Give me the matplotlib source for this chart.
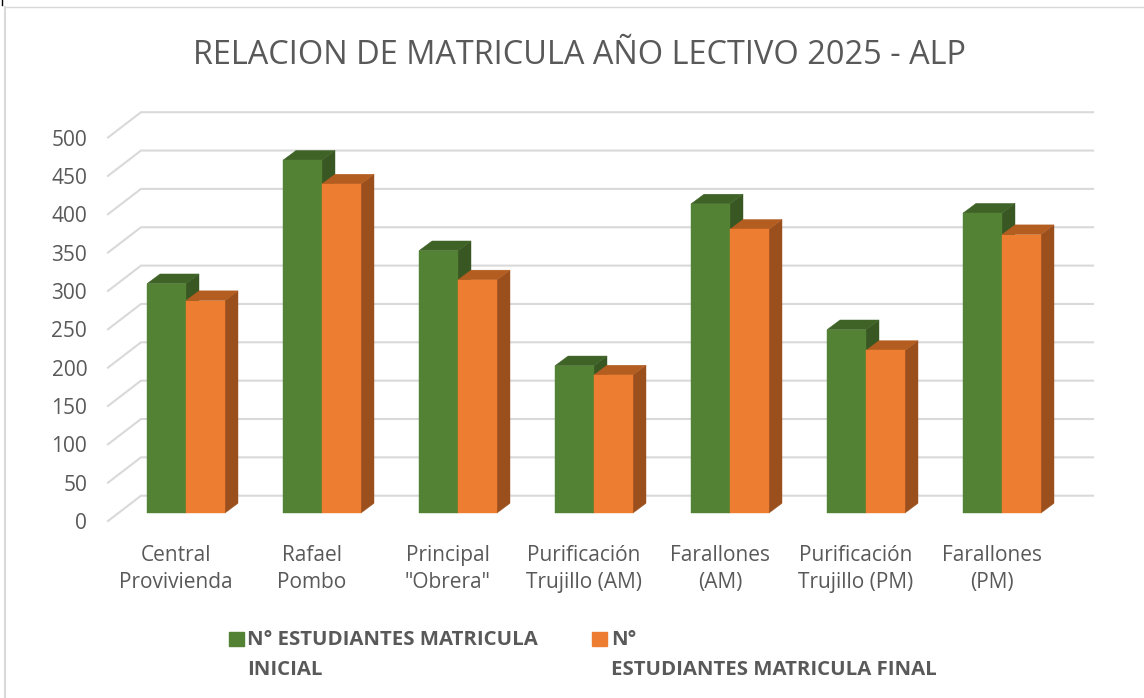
import matplotlib
matplotlib.use('Agg')
import matplotlib.pyplot as plt
from matplotlib.lines import Line2D
from matplotlib.patches import Rectangle
import numpy as np

plt.rcParams['font.family'] = ['Open Sans', 'DejaVu Sans']

escuelas = ['Central\nProvivienda', 'Rafael\nPombo', 'Principal\n"Obrera"', 'Purificación\nTrujillo (AM)',
            'Farallones\n(AM)', 'Purificación\nTrujillo (PM)', 'Farallones\n(PM)']
inicial = [299, 460, 342, 192, 403, 239, 391]
final = [277, 429, 304, 180, 370, 212, 363]
yticks = [0, 50, 100, 150, 200, 250, 300, 350, 400, 450, 500]

W, H = 1144, 698
GREY = '#595959'
GRID = '#D9D9D9'

fig = plt.figure(figsize=(W / 100, H / 100), dpi=100)
ax = fig.add_axes([108 / W, 1 - 521 / H, 952 / W, 383.5 / H])
ax.set_xlim(-0.5, 6.5)
ax.set_ylim(0, 500)

# pixel distances turned into data units
px_x = 7 / 952
px_y = 500 / 383.5


def draw_bars(xs, vals, front, side, top):
    off_x, off_y = 10 * px_x, 8 * px_y
    dep_x, dep_y = 13 * px_x, 9.7 * px_y
    w = 39 * px_x
    for x, v in zip(xs, vals):
        l = x + off_x
        r = l + w
        ax.fill([r, r + dep_x, r + dep_x, r], [off_y, off_y + dep_y, off_y + v + dep_y, off_y + v],
                color=side, linewidth=0.3, zorder=3, clip_on=False)
        ax.fill([l, r, r + dep_x, l + dep_x], [off_y + v, off_y + v, off_y + v + dep_y, off_y + v + dep_y],
                color=top, linewidth=0.3, zorder=3, clip_on=False)
        ax.bar(l, v, w, bottom=off_y, align='edge', color=front, edgecolor=front, linewidth=0.3, zorder=3)


x = np.arange(len(escuelas))
for v in yticks:
    wall_x, wall_y = 33 * px_x, 25.3 * px_y
    ax.plot([-0.5, -0.5 + wall_x, 6.5 + wall_x], [v, v + wall_y, v + wall_y], color=GRID, lw=1.5,
            zorder=1, clip_on=False, solid_joinstyle='miter')

draw_bars(x - 39 * px_x, inicial, '#548235', '#385723', '#3F6226')
draw_bars(x, final, '#ED7D31', '#9A4F1C', '#B35D20')

for s in ax.spines.values():
    s.set_visible(False)
ax.patch.set_visible(False)
ax.set_xticks(x)
ax.set_xticklabels(escuelas, fontsize=15, color=GREY, linespacing=1.42)
ax.set_yticks(yticks)
ax.set_yticklabels([str(v) for v in yticks], fontsize=15, color=GREY)
ax.tick_params(axis='x', length=0, pad=17)
ax.tick_params(axis='y', length=0, pad=15)

fig.text(579 / W, 1 - 55 / H, 'RELACION DE MATRICULA AÑO LECTIVO 2025 - ALP', fontsize=23.4, color=GREY,
         ha='center', va='center')

# legend
fig.add_artist(Rectangle((229 / W, 1 - 646 / H), 15 / W, 14 / H, color='#548235', transform=fig.transFigure))
fig.add_artist(Rectangle((592 / W, 1 - 646 / H), 15 / W, 14 / H, color='#ED7D31', transform=fig.transFigure))
legend_font = dict(fontsize=14.7, color=GREY, fontweight='bold', va='center', ha='left')
fig.text(247 / W, 1 - 640 / H, 'N° ESTUDIANTES MATRICULA', **legend_font)
fig.text(247 / W, 1 - 670 / H, 'INICIAL', **legend_font)
fig.text(611 / W, 1 - 640 / H, 'N°', **legend_font)
fig.text(611 / W, 1 - 670 / H, 'ESTUDIANTES MATRICULA FINAL', **legend_font)

# frame of the chart area
fig.add_artist(Line2D([4.5 / W, 4.5 / W], [0, 1 - 7 / H], color=GRID, lw=1.5))
fig.add_artist(Line2D([4.5 / W, 1], [1 - 7 / H, 1 - 7 / H], color=GRID, lw=1))
fig.add_artist(Line2D([2 / W, 2 / W], [1 - 5 / H, 1], color='black', lw=1))

fig.savefig('out.png', dpi=100)
